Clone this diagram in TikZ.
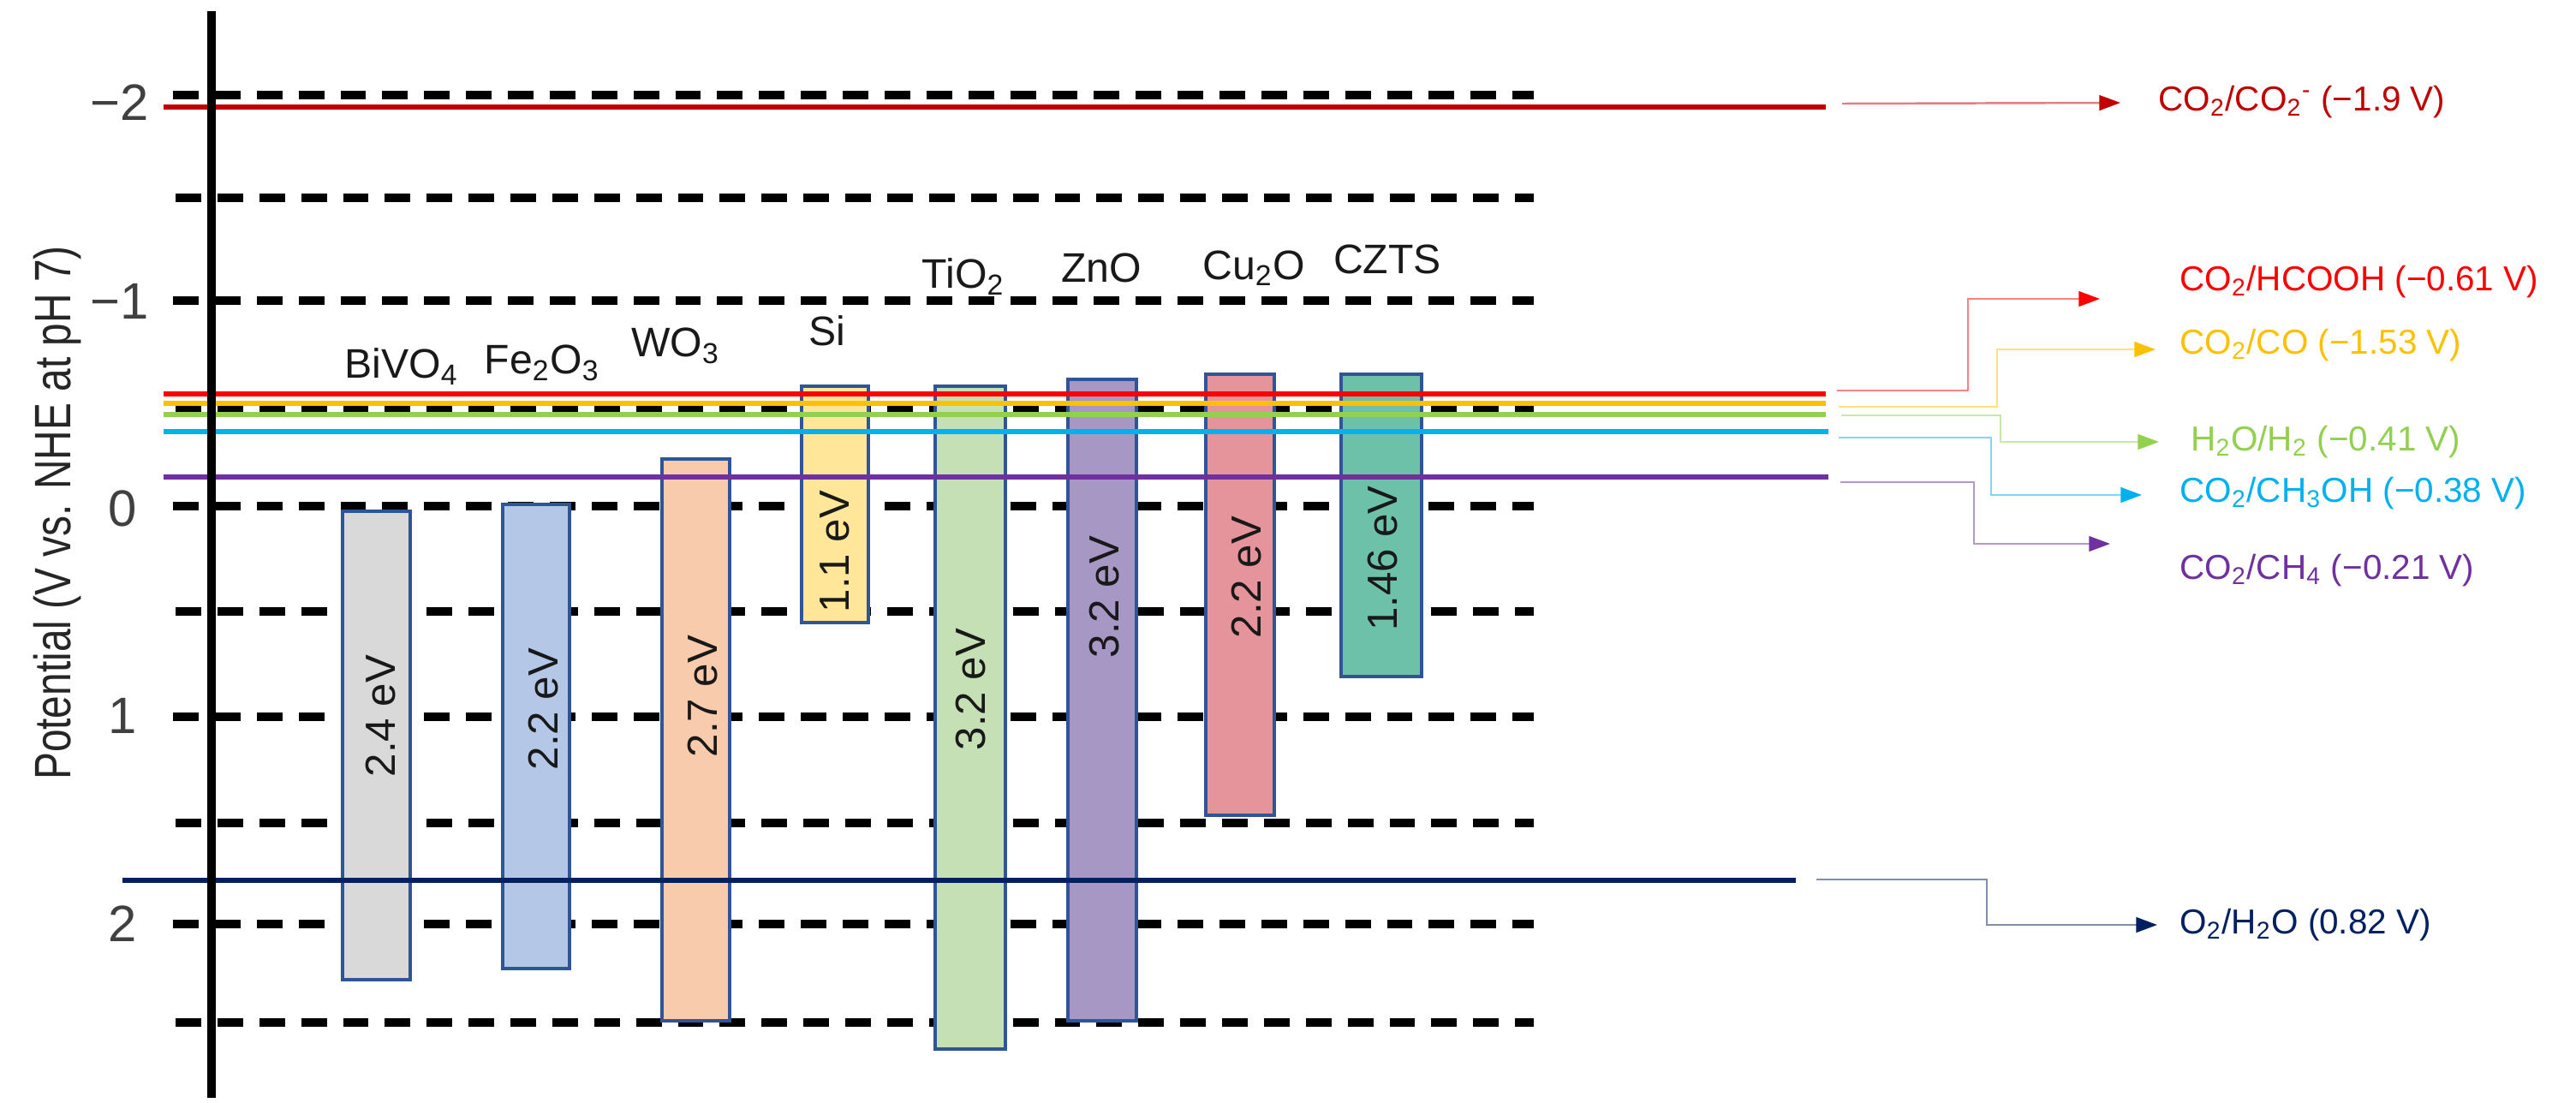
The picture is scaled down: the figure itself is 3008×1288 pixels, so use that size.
\documentclass[tikz,border=0pt]{standalone}
\usepackage{fontspec}
\setmainfont{Liberation Sans}
\usetikzlibrary{arrows.meta}
\definecolor{cdred}{HTML}{C00000}
\definecolor{cred}{HTML}{FF0000}
\definecolor{corange}{HTML}{FFC000}
\definecolor{cgreen}{HTML}{92D050}
\definecolor{cblue}{HTML}{00B0F0}
\definecolor{cpurple}{HTML}{7030A0}
\definecolor{cnavy}{HTML}{002060}
\definecolor{bedge}{HTML}{2F5597}
\begin{document}
\begin{tikzpicture}[x=0.01cm,y=-0.01cm,
  grid/.style={line width=2.6pt,dash pattern=on 8.5pt off 5.4pt},
  level/.style={line width=1.5pt},
  conn/.style={line width=0.7pt,draw=#1!50,-{Triangle[length=7pt,width=5pt,color=#1]}},
  bar/.style={draw=bedge,line width=0.9pt},
  blab/.style={rotate=90,font=\fontsize{14}{16}\selectfont,text=black!90},
  mlab/.style={font=\fontsize{13.7}{16}\selectfont,text=black!90},
  tick/.style={anchor=east,font=\fontsize{17}{20}\selectfont,text=black!75},
  rlab/.style={anchor=west,font=\fontsize{11.5}{14}\selectfont}]
\useasboundingbox (0,0) rectangle (3008,1288);
% grid
\foreach \yy in {111,351,591,837,1079}{\draw[grid] (202,\yy) -- (1791,\yy);}
\foreach \yy in {231,476,714,961,1194}{\draw[grid] (205,\yy) -- (1791,\yy);}
% ticks
\node[tick] (t-2) at (186,120) {−2};
\node[tick] (t-1) at (186,352) {−1};
\node[tick] (t0) at (172,594) {0};
\node[tick] (t1) at (172,836) {1};
\node[tick] (t2) at (172,1079) {2};
\node[rotate=90,font=\fontsize{17}{20}\selectfont,xscale=0.8,transform shape,text=black!85] (ylab) at (67,599) {Potential (V vs. NHE at pH 7)};
% bars
\draw[bar,fill={rgb,255:red,217;green,217;blue,217}] (400,597) rectangle (479,1144);
\draw[bar,fill={rgb,255:red,180;green,199;blue,231}] (587,589) rectangle (665,1131);
\draw[bar,fill={rgb,255:red,248;green,203;blue,173}] (773,536) rectangle (852,1192);
\draw[bar,fill={rgb,255:red,255;green,230;blue,153}] (936,451) rectangle (1014,727);
\draw[bar,fill={rgb,255:red,197;green,224;blue,180}] (1092,451) rectangle (1174,1225);
\draw[bar,fill={rgb,255:red,167;green,151;blue,196}] (1247,443) rectangle (1327,1192);
\draw[bar,fill={rgb,255:red,230;green,148;blue,156}] (1408,437) rectangle (1488,952);
\draw[bar,fill={rgb,255:red,109;green,193;blue,169}] (1566,437) rectangle (1660,790);
\node[blab] (g1) at (445,836) {2.4 eV};
\node[blab] (g2) at (635,828) {2.2 eV};
\node[blab] (g3) at (821,813) {2.7 eV};
\node[blab] (g4) at (975,644) {1.1 eV};
\node[blab] (g5) at (1134,805) {3.2 eV};
\node[blab] (g6) at (1290,697) {3.2 eV};
\node[blab] (g7) at (1456,674) {2.2 eV};
\node[blab] (g8) at (1615,652) {1.46 eV};
% material labels
\node[mlab] (m1) at (469,428) {BiVO\textsubscript{4}};
\node[mlab] (m2) at (633,424) {Fe\textsubscript{2}O\textsubscript{3}};
\node[mlab] (m3) at (789,404) {WO\textsubscript{3}};
\node[mlab] (m4) at (966,386) {Si};
\node[mlab] (m5) at (1125,323) {TiO\textsubscript{2}};
\node[mlab] (m6) at (1286,313) {ZnO};
\node[mlab] (m7) at (1464,313) {Cu\textsubscript{2}O};
\node[mlab] (m8) at (1620,303) {CZTS};
% levels
\draw[level,cdred] (191,125) -- (2132,125);
\draw[level,cred] (191,460) -- (2132,460);
\draw[level,corange] (191,471) -- (2132,471);
\draw[level,cgreen] (191,484) -- (2132,484);
\draw[level,cblue] (191,504) -- (2135,504);
\draw[level,cpurple] (191,557) -- (2135,557);
\draw[level,cnavy] (143,1028) -- (2097,1028);
% axis
\draw[line width=2.85pt] (247,13) -- (247,1282);
% right labels
\node[rlab,text=cdred] (l1) at (2508,119) {CO\textsubscript{2}/CO\textsubscript{2}\textsuperscript{-} (−1.9 V)};
\node[rlab,text=cred] (l2) at (2533,329) {CO\textsubscript{2}/HCOOH (−0.61 V)};
\node[rlab,text=corange] (l3) at (2533,403) {CO\textsubscript{2}/CO (−1.53 V)};
\node[rlab,text=cgreen] (l4) at (2546,516) {H\textsubscript{2}O/H\textsubscript{2} (−0.41 V)};
\node[rlab,text=cblue] (l5) at (2533,576) {CO\textsubscript{2}/CH\textsubscript{3}OH (−0.38 V)};
\node[rlab,text=cpurple] (l6) at (2533,666) {CO\textsubscript{2}/CH\textsubscript{4} (−0.21 V)};
\node[rlab,text=cnavy] (l7) at (2533,1080) {O\textsubscript{2}/H\textsubscript{2}O (0.82 V)};
% connectors
\coordinate (s1) at (2151,121); \coordinate (e1) at (2476,120);
\coordinate (s2) at (2145,456); \coordinate (e2) at (2452,349);
\coordinate (s3) at (2147,475); \coordinate (e3) at (2517,408);
\coordinate (s4) at (2150,485); \coordinate (e4) at (2521,516);
\coordinate (s5) at (2147,511); \coordinate (e5) at (2501,578);
\coordinate (s6) at (2149,563); \coordinate (e6) at (2464,635);
\coordinate (s7) at (2121,1027); \coordinate (e7) at (2519,1080);
\draw[conn=cdred] (s1) -- (e1);
\draw[conn=cred] (s2) -- (2298,456) |- (e2);
\draw[conn=corange] (s3) -- (2332,475) |- (e3);
\draw[conn=cgreen] (s4) -- (2336,485) |- (e4);
\draw[conn=cblue] (s5) -- (2325,511) |- (e5);
\draw[conn=cpurple] (s6) -- (2305,563) |- (e6);
\draw[conn=cnavy] (s7) -- (2320,1027) |- (e7);
\end{tikzpicture}
\end{document}
